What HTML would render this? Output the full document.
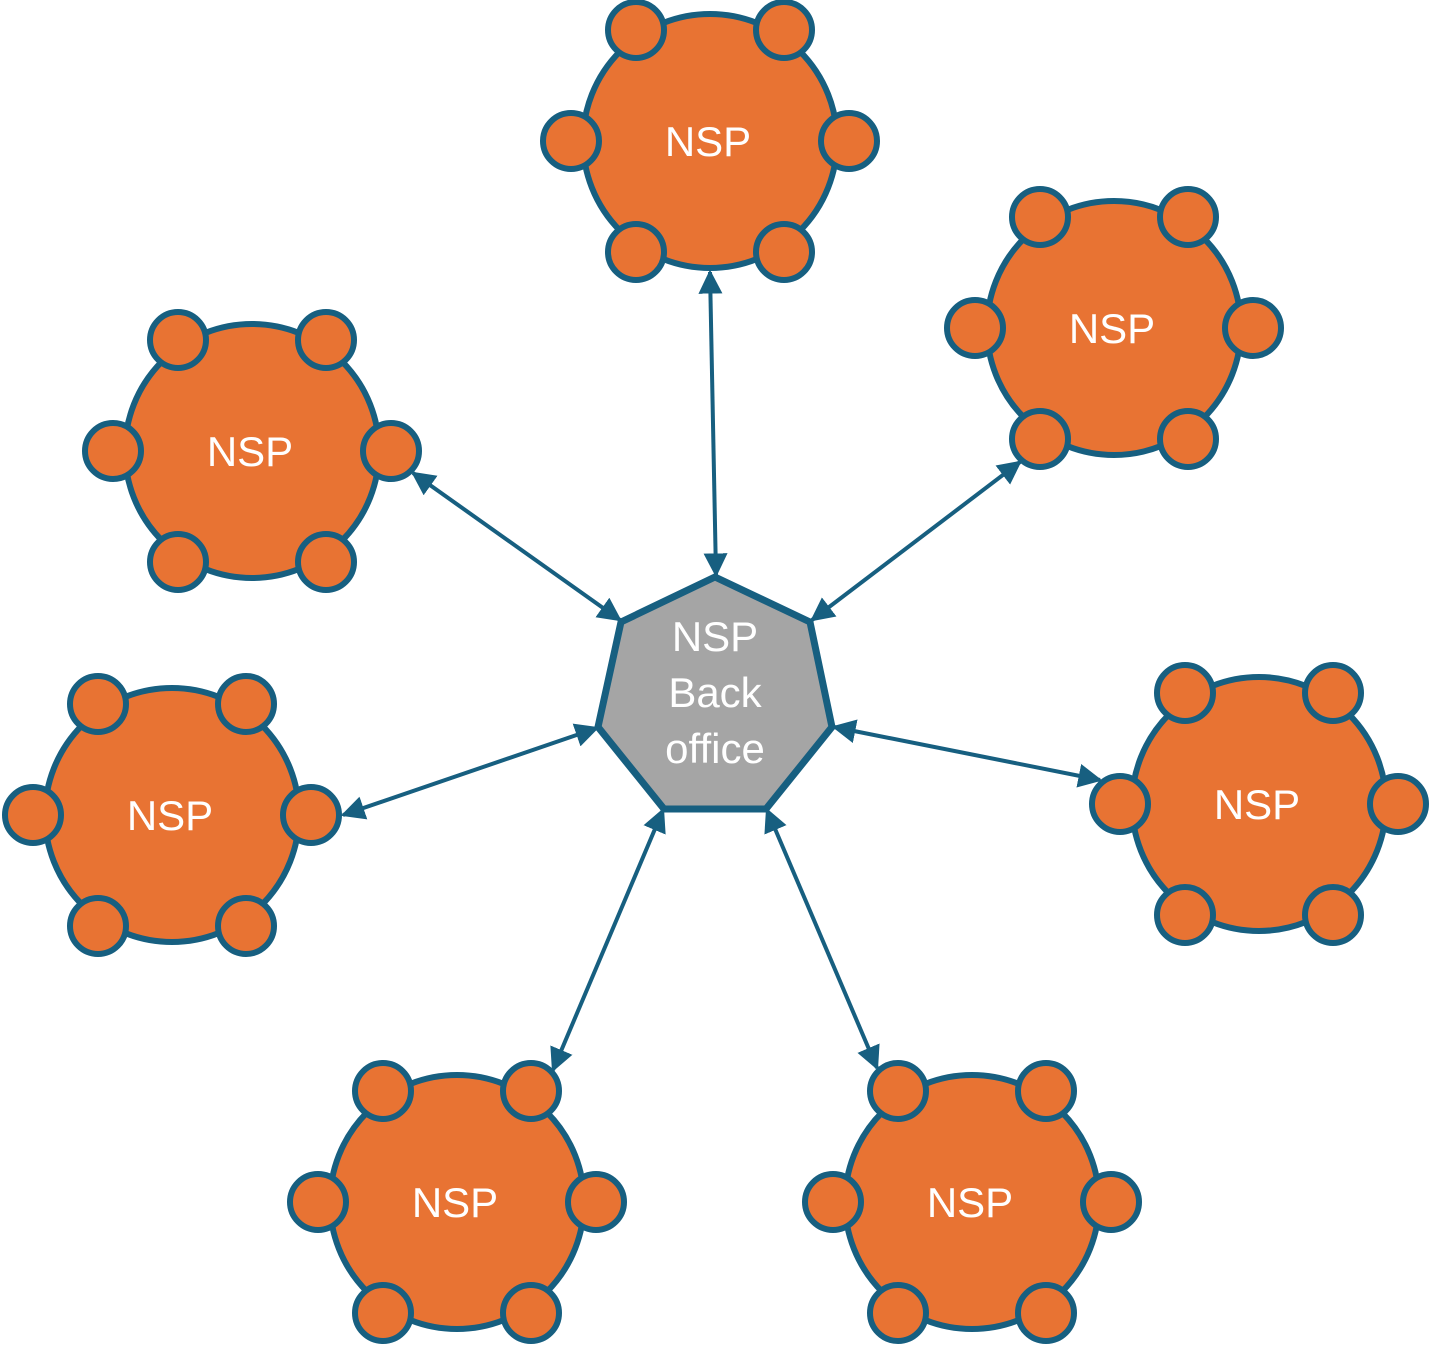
<!DOCTYPE html>
<html><head><meta charset="utf-8"><style>
html,body{margin:0;padding:0;background:#fff;}
svg{display:block;}
text{font-family:"Liberation Sans",sans-serif;fill:#fff;font-size:42px;text-anchor:middle;}
</style></head><body>
<svg width="1434" height="1347" viewBox="0 0 1434 1347" xmlns="http://www.w3.org/2000/svg">
<defs>
<marker id="a" viewBox="0 0 10 10" refX="9" refY="5" markerWidth="6" markerHeight="6" markerUnits="strokeWidth" orient="auto-start-reverse">
<path d="M0,0 L10,5 L0,10 z" fill="#175f80"/>
</marker>
<g id="n">
<circle cx="0" cy="0" r="127" fill="#e87333" stroke="#175f80" stroke-width="6"/>
<g fill="#e87333" stroke="#175f80" stroke-width="6">
<circle cx="-74" cy="-111" r="28"/><circle cx="74" cy="-111" r="28"/>
<circle cx="-139" cy="0" r="28"/><circle cx="139" cy="0" r="28"/>
<circle cx="-74" cy="111" r="28"/><circle cx="74" cy="111" r="28"/>
</g>
<text x="-2" y="15">NSP</text>
</g>
</defs>
<g stroke="#175f80" stroke-width="4" marker-start="url(#a)" marker-end="url(#a)">
<line x1="710" y1="272" x2="716" y2="575"/>
<line x1="413" y1="473" x2="620" y2="620"/>
<line x1="1020" y1="462" x2="812" y2="620"/>
<line x1="343" y1="815" x2="597" y2="728"/>
<line x1="834" y1="727" x2="1100" y2="780"/>
<line x1="553" y1="1070" x2="663" y2="810"/>
<line x1="877" y1="1068" x2="767" y2="810"/>
</g>
<polygon points="715,577 810,622 832,727 766,809 664,809 598,727 621,622" fill="#a5a5a5" stroke="#175f80" stroke-width="7"/>
<text x="715" y="651">NSP</text>
<text x="715" y="707">Back</text>
<text x="715" y="763">office</text>
<use href="#n" x="710" y="141"/>
<use href="#n" x="1114" y="328"/>
<use href="#n" x="252" y="451"/>
<use href="#n" x="172" y="815"/>
<use href="#n" x="1259" y="804"/>
<use href="#n" x="457" y="1202"/>
<use href="#n" x="972" y="1202"/>
</svg>
</body></html>
